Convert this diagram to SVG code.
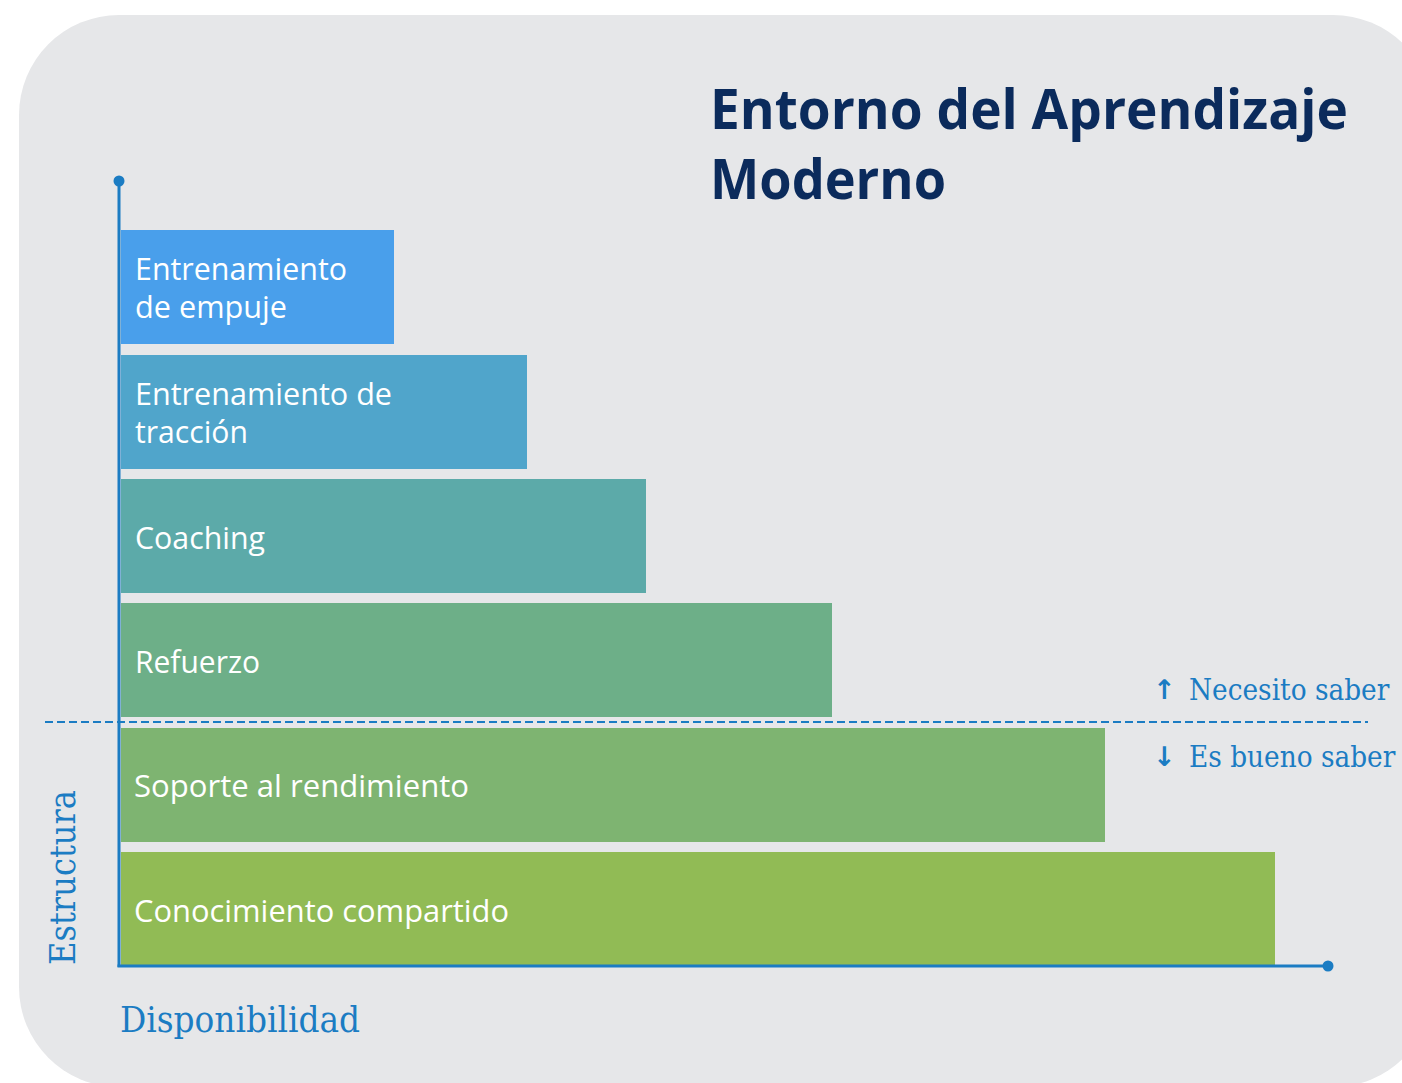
<svg xmlns="http://www.w3.org/2000/svg" width="1402" height="1083" viewBox="0 0 1402 1083">
<style>
.bar-label{font-family:"Open Sans","Noto Sans",sans-serif;font-size:31px;fill:#ffffff;}
.title{font-family:"Open Sans","Noto Sans",sans-serif;font-size:56px;font-weight:bold;fill:#0b2b5c;}
.slab{font-family:"DejaVu Serif","Liberation Serif",serif;fill:#1b7cc3;}
.arrow{font-family:"DejaVu Sans","Liberation Sans",sans-serif;fill:#1b7cc3;font-size:27px;}
.axis{stroke:#1b7cc3;stroke-width:3;fill:none;}
</style>
<rect x="19" y="15" width="1414" height="1072" rx="100" ry="100" fill="#e6e7e9"/>
<g id="title">
<text class="title" x="710" y="129" textLength="638" lengthAdjust="spacingAndGlyphs">Entorno del Aprendizaje</text>
<text class="title" x="710" y="199" textLength="236" lengthAdjust="spacingAndGlyphs">Moderno</text>
</g>
<g id="bar-empuje">
<rect x="121" y="230" width="273" height="114" fill="#499feb"/>
<text class="bar-label" x="135" y="280" textLength="212" lengthAdjust="spacingAndGlyphs">Entrenamiento</text>
<text class="bar-label" x="135" y="318" textLength="152" lengthAdjust="spacingAndGlyphs">de empuje</text>
</g>
<g id="bar-traccion">
<rect x="121" y="355" width="406" height="114" fill="#50a5cb"/>
<text class="bar-label" x="135" y="405" textLength="257" lengthAdjust="spacingAndGlyphs">Entrenamiento de</text>
<text class="bar-label" x="135" y="443" textLength="113" lengthAdjust="spacingAndGlyphs">tracción</text>
</g>
<g id="bar-coaching">
<rect x="121" y="479" width="525" height="114" fill="#5caaa9"/>
<text class="bar-label" x="135" y="549" textLength="130" lengthAdjust="spacingAndGlyphs">Coaching</text>
</g>
<g id="bar-refuerzo">
<rect x="121" y="603" width="711" height="114" fill="#6daf88"/>
<text class="bar-label" x="135" y="673" textLength="125" lengthAdjust="spacingAndGlyphs">Refuerzo</text>
</g>
<g id="bar-soporte">
<rect x="121" y="728" width="984" height="114" fill="#7eb471"/>
<text class="bar-label" x="134" y="797" textLength="335" lengthAdjust="spacingAndGlyphs">Soporte al rendimiento</text>
</g>
<g id="bar-conocimiento">
<rect x="121" y="852" width="1154" height="114" fill="#91bb55"/>
<text class="bar-label" x="134" y="922" textLength="375" lengthAdjust="spacingAndGlyphs">Conocimiento compartido</text>
</g>
<g id="connectors">
<line class="axis" x1="119" y1="181" x2="119" y2="967"/>
<circle cx="119" cy="181" r="5.5" fill="#1b7cc3"/>
<line class="axis" x1="117.5" y1="966" x2="1328" y2="966"/>
<circle cx="1328" cy="966" r="5.5" fill="#1b7cc3"/>
<line x1="45" y1="722" x2="1368" y2="722" stroke="#1b7cc3" stroke-width="2" stroke-dasharray="8 4"/>
</g>
<g id="labels">
<text class="arrow" x="1153" y="699" font-weight="bold">↑</text>
<text class="slab" transform="translate(1189 700) scale(0.91 1)" font-size="29">Necesito saber</text>
<text class="arrow" x="1153" y="766" font-weight="bold">↓</text>
<text class="slab" transform="translate(1189 767) scale(0.91 1)" font-size="29">Es bueno saber</text>
<text class="slab" x="120" y="1032" font-size="35" textLength="240" lengthAdjust="spacingAndGlyphs">Disponibilidad</text>
<text class="slab" transform="translate(75 965) rotate(-90)" x="0" y="0" font-size="35" textLength="175" lengthAdjust="spacingAndGlyphs">Estructura</text>
</g>
</svg>
